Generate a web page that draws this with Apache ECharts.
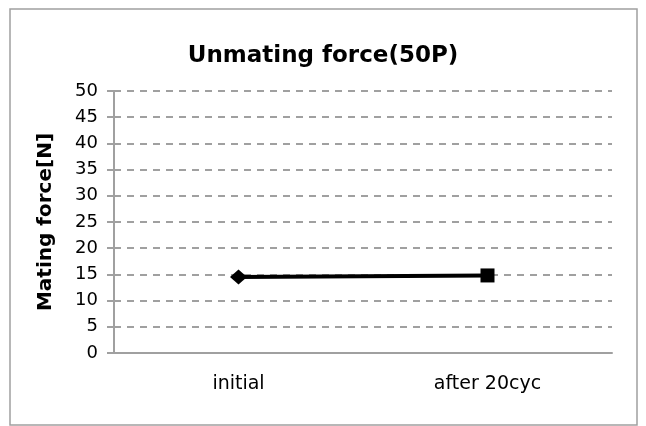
<!DOCTYPE html>
<html><head><meta charset="utf-8">
<script src="https://cdn.jsdelivr.net/npm/echarts@6/dist/echarts.min.js"></script>
<style>html,body{margin:0;padding:0;background:#fff}#c{width:646px;height:426px}</style>
</head><body><div id="c"></div>
<script>
const categories = ['initial', 'after 20cyc'];
const values = [14.5, 14.8];
const symbols = ['diamond', 'rect'];
const symbolSizes = [[17, 15], [14, 14]];
const yMin = 0, yMax = 50, yStep = 5;

const FONT = '"DejaVu Sans", Verdana, sans-serif';
const chart = echarts.init(document.getElementById('c'), null, {renderer: 'canvas'});
const axisGrey = '#a0a0a0';
chart.setOption({
  animation: false,
  title: {
    text: 'Unmating force(50P)', left: 'center', top: 40,
    textStyle: {fontFamily: FONT, fontWeight: 'bold', fontSize: 23, color: '#000'}
  },
  graphic: [{
    type: 'rect', shape: {x: 10, y: 9, width: 627, height: 416},
    style: {fill: 'none', stroke: '#a0a0a0', lineWidth: 1.5}, silent: true
  }],
  grid: {left: 114, right: 34, top: 91, bottom: 73},
  xAxis: {
    type: 'category', data: categories, boundaryGap: true,
    axisLine: {lineStyle: {color: axisGrey, width: 2}},
    axisTick: {show: false},
    axisLabel: {fontFamily: FONT, fontSize: 19, color: '#000', margin: 22}
  },
  yAxis: [{
    type: 'value', min: yMin, max: yMax, interval: yStep,
    name: 'Mating force[N]', nameLocation: 'middle', nameGap: 58,
    nameTextStyle: {fontFamily: FONT, fontWeight: 'bold', fontSize: 20, color: '#000'},
    axisLine: {show: true, lineStyle: {color: axisGrey, width: 2}},
    axisTick: {show: true, length: 7, lineStyle: {color: axisGrey, width: 2}},
    axisLabel: {fontFamily: FONT, fontSize: 18, color: '#000', margin: 16},
    splitLine: {show: true, lineStyle: {color: axisGrey, width: 2, type: [7, 6]}}
  }, {
    type: 'value', min: yMin, max: yMax, interval: yStep, position: 'left',
    axisLine: {show: false},
    axisTick: {show: true, inside: true, length: 6, lineStyle: {color: axisGrey, width: 2}},
    axisLabel: {show: false}, splitLine: {show: false}
  }],
  series: [{
    type: 'line', yAxisIndex: 0,
    data: values.map((v, i) => ({value: v, symbol: symbols[i], symbolSize: symbolSizes[i]})),
    lineStyle: {color: '#000', width: 4},
    itemStyle: {color: '#000'},
    showAllSymbol: true
  }]
});
</script></body></html>
